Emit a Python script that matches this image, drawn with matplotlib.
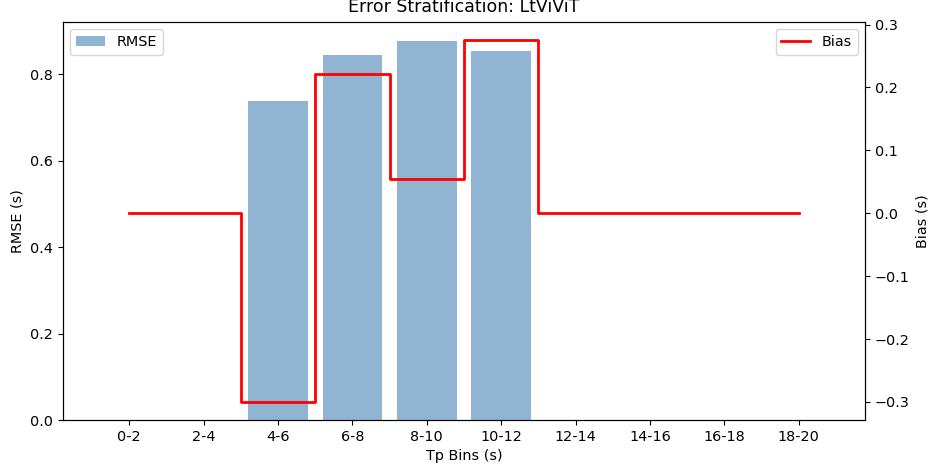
import numpy as np
import matplotlib.pyplot as plt

# Error stratification by peak period bin
bins = ['0-2', '2-4', '4-6', '6-8', '8-10', '10-12', '12-14', '14-16', '16-18', '18-20']
rmse = [0.0, 0.0, 0.738, 0.844, 0.876, 0.853, 0.0, 0.0, 0.0, 0.0]
bias = [0.0, 0.0, -0.300, 0.221, 0.055, 0.275, 0.0, 0.0, 0.0, 0.0]

plt.rcParams['font.size'] = 10.4

fig = plt.figure(figsize=(9.32, 4.72), dpi=100)
ax1 = fig.add_axes([0.0676, 0.110, 0.8605, 0.843])
x = np.arange(len(bins))

ax1.bar(x, rmse, width=0.8, color='steelblue', alpha=0.6, label='RMSE')
ax1.set_xticks(x)
ax1.set_xticklabels(bins)
ax1.set_xlabel('Tp Bins (s)')
ax1.set_ylabel('RMSE (s)')
ax1.legend(loc='upper left')

ax2 = ax1.twinx()
ax2.plot(x, bias, color='red', linewidth=2, drawstyle='steps-mid', label='Bias')
ax2.set_ylabel('Bias (s)')
ax2.legend(loc='upper right')

ax1.set_title('Error Stratification: LtViViT', pad=7)

fig.savefig('out.png', dpi=100)
